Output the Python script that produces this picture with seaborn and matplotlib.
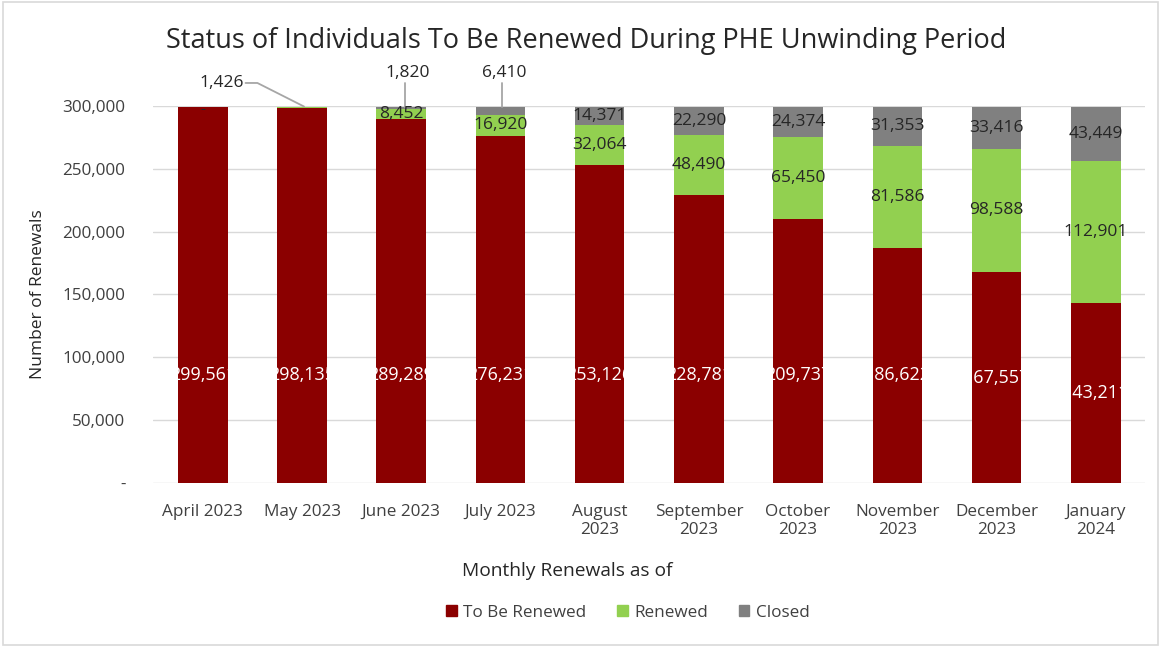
import matplotlib
matplotlib.use("Agg")
import matplotlib.pyplot as plt
import seaborn as sns
import pandas as pd
import numpy as np
from matplotlib.ticker import FuncFormatter

months = ["April 2023", "May 2023", "June 2023", "July 2023", "August\n2023",
          "September\n2023", "October\n2023", "November\n2023", "December\n2023", "January\n2024"]
to_be_renewed = [299561, 298135, 289289, 276231, 253126, 228781, 209737, 186622, 167557, 143211]
renewed = [0, 1426, 8452, 16920, 32064, 48490, 65450, 81586, 98588, 112901]
closed = [0, 0, 1820, 6410, 14371, 22290, 24374, 31353, 33416, 43449]

c_red, c_green, c_gray = "#8B0000", "#92D050", "#808080"

sns.set_theme(style="white")
plt.rcParams['font.family'] = ['Open Sans', 'DejaVu Sans']

df = pd.DataFrame({"month": months, "tbr": to_be_renewed, "ren": renewed, "clo": closed})
df["b2"] = df["tbr"]
df["b3"] = df["tbr"] + df["ren"]

fig = plt.figure(figsize=(11.61, 6.47), dpi=100)
ax = fig.add_axes([0.132, 0.2535, 0.8545, 0.5827])

sns.barplot(data=df, x="month", y="tbr", color=c_red, width=0.5, ax=ax, saturation=1, linewidth=0)
sns.barplot(data=df, x="month", y="ren", bottom=df["b2"], color=c_green, width=0.5, ax=ax, saturation=1, linewidth=0)
sns.barplot(data=df, x="month", y="clo", bottom=df["b3"], color=c_gray, width=0.5, ax=ax, saturation=1, linewidth=0)

ax.set_ylim(0, 300000)
ax.set_yticks(np.arange(0, 300001, 50000))
ax.yaxis.set_major_formatter(FuncFormatter(lambda v, p: "-" if v == 0 else f"{int(v):,}"))
ax.grid(axis="y", color="#D9D9D9", linewidth=1)
ax.set_axisbelow(True)
for s in ax.spines.values():
    s.set_visible(False)
ax.tick_params(axis="x", length=0, labelsize=12.3, colors="#404040", pad=15)
ax.tick_params(axis="y", length=0, labelsize=12.3, colors="#404040", pad=20)
ax.set_xlabel("Monthly Renewals as of", fontsize=13.8, color="#262626")
ax.xaxis.set_label_coords(0.417, -0.21)
ax.set_ylabel("Number of Renewals", fontsize=12.5, color="#262626", labelpad=12)
ax.set_xlim(-0.5, len(months) - 0.5)

fig.suptitle("Status of Individuals To Be Renewed During PHE Unwinding Period",
             fontsize=19.5, color="#262626", y=0.958, x=0.505)

red_bars = ax.containers[0]
for i, (bar, v) in enumerate(zip(red_bars, to_be_renewed)):
    yv = min(v / 2, 86000)
    t = ax.text(i, yv, f"{v:,}", ha="center", va="center", color="white", fontsize=13)
    t.set_clip_path(bar)

for i in range(len(months)):
    if renewed[i] >= 5000:
        ax.text(i, to_be_renewed[i] + renewed[i] / 2, f"{renewed[i]:,}", ha="center", va="center",
                color="#262626", fontsize=12.5)
    if closed[i] >= 10000:
        ax.text(i, to_be_renewed[i] + renewed[i] + closed[i] / 2, f"{closed[i]:,}", ha="center",
                va="center", color="#262626", fontsize=12.5)

ax.text(0, 297300, "-", ha="center", va="center", color="#262626", fontsize=11)

# callouts
ax.text(0.19, 318300, f"{renewed[1]:,}", ha="center", va="center", fontsize=12.5, color="#262626", clip_on=False)
ax.plot([0.43, 0.55, 1.02], [318300, 318300, 299561], color="#A6A6A6", lw=1.3, clip_on=False)
ax.text(2.06, 326000, f"{closed[2]:,}", ha="center", va="center", fontsize=12.5, color="#262626", clip_on=False)
ax.plot([2.04, 2.04], [318500, 299000], color="#A6A6A6", lw=1.3, clip_on=False)
ax.text(3.04, 326000, f"{closed[3]:,}", ha="center", va="center", fontsize=12.5, color="#262626", clip_on=False)
ax.plot([3.02, 3.02], [318500, 299000], color="#A6A6A6", lw=1.3, clip_on=False)

leg = fig.legend(handles=[plt.Rectangle((0, 0), 1, 1, color=c) for c in (c_red, c_green, c_gray)],
                 labels=["To Be Renewed", "Renewed", "Closed"], loc="center", ncol=3,
                 bbox_to_anchor=(0.541, 0.053), frameon=False, fontsize=12.3,
                 handlelength=0.6, handleheight=0.6, handletextpad=0.4, columnspacing=1.8)
for t in leg.get_texts():
    t.set_color("#404040")

fig.patches.append(plt.Rectangle((0.003, 0.003), 0.994, 0.994, transform=fig.transFigure,
                                 fill=False, edgecolor="#D9D9D9", linewidth=1.2))

fig.savefig("out.png", dpi=100)
